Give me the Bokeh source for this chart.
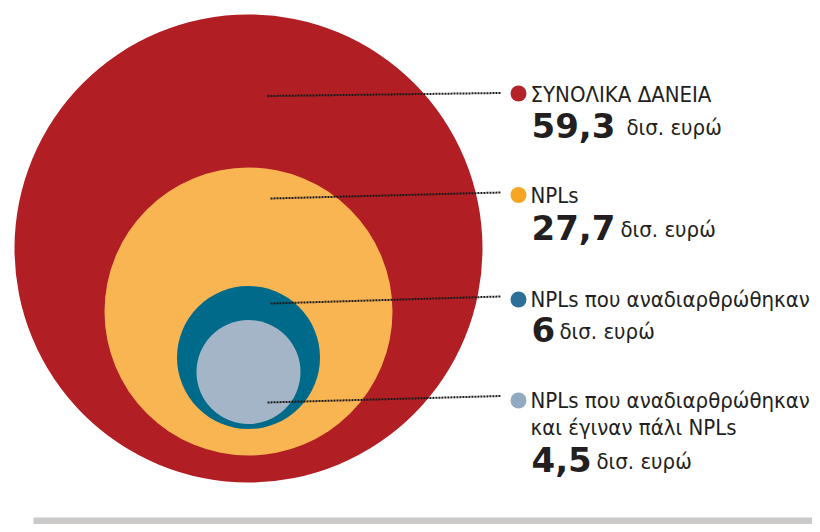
from bokeh.plotting import figure
from bokeh.models import Range1d, ColumnDataSource
from bokeh.core.properties import value
from bokeh.embed import file_html
from bokeh.resources import INLINE

# ---- data ----
categories = ["ΣΥΝΟΛΙΚΑ ΔΑΝΕΙΑ", "NPLs", "NPLs που αναδιαρθρώθηκαν", "NPLs που αναδιαρθρώθηκαν"]
second_lines = ["", "", "", "και έγιναν πάλι NPLs"]
values = [59.3, 27.7, 6, 4.5]
unit = "δισ. ευρώ"
circle_colors = ["#B11F24", "#F9B552", "#006A8A", "#A4B5C7"]
dot_colors = ["#B5232A", "#F6A623", "#2C6F97", "#92AAC1"]

# ---- layout (picture pixel coordinates) ----
cx = [248, 248, 248, 248]
cy = [248, 311, 357, 371.5]
radius = [234, 144, 71.5, 52]
leader_x0 = [267, 270, 270, 267]
leader_y0 = [95.5, 198, 303, 402]
leader_x1 = [500, 500, 500, 500]
leader_y1 = [92.5, 192, 296, 395.5]
dot_x = [518, 518, 518, 518]
dot_y = [93, 194.5, 299, 400]
label_y = [93.5, 195, 298.5, 400]
label2_y = [0, 0, 0, 427]
num_y = [125, 227, 329, 458.5]
unit_x = [626, 620, 559, 596]
unit_y = [127, 229, 331, 460.5]

W, H = 812, 524
p = figure(width=W, height=H, output_backend="svg", toolbar_location=None,
           x_range=Range1d(0, W), y_range=Range1d(H, 0),
           x_axis_type=None, y_axis_type=None, min_border=0,
           background_fill_color="white", border_fill_color="white")
p.outline_line_color = None
p.grid.visible = False

src = ColumnDataSource(dict(x=cx, y=cy, r=radius, c=circle_colors))
p.circle(x="x", y="y", radius="r", fill_color="c", line_color=None, source=src)

# bottom grey band
p.quad(left=[33], right=[W], top=[517], bottom=[H], fill_color="#CCC9C9", line_color=None)

p.segment(x0=leader_x0, y0=leader_y0, x1=leader_x1, y1=leader_y1,
          line_color="#1a1a1a", line_width=2, line_dash="2 1")

p.scatter(x=dot_x, y=dot_y, size=16, color=dot_colors, line_color=None)

label_font = value("'Liberation Sans Narrow', 'DejaVu Sans Condensed', 'Roboto Condensed', 'Roboto'")
txt = "#231F20"
lx = 530
p.text(x=[lx] * 4, y=label_y, text=categories, text_font=label_font, text_font_size="22px",
       text_color=txt, text_baseline="alphabetic")
p.text(x=[lx], y=[label2_y[3]], text=[second_lines[3]], text_font=label_font, text_font_size="22px",
       text_color=txt, text_baseline="alphabetic")

nums = [f"{v:g}".replace(".", ",") for v in values]
p.text(x=[lx + 1] * 4, y=num_y, text=nums, text_font=value("DejaVu Sans"), text_font_style="bold",
       text_font_size="34px", text_color=txt, text_baseline="alphabetic")
p.text(x=unit_x, y=unit_y, text=[unit] * 4, text_font=label_font, text_font_size="22px",
       text_color=txt, text_baseline="alphabetic")

open("out.html", "w").write(file_html(p, INLINE))
